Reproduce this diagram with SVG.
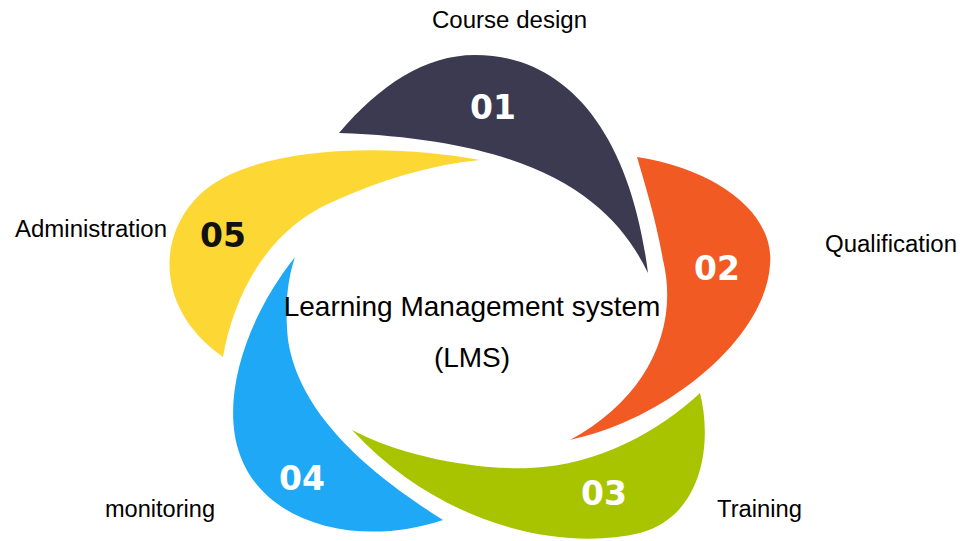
<svg xmlns="http://www.w3.org/2000/svg" width="963" height="541" viewBox="0 0 963 541">
<style>
.lbl{font-family:"Liberation Sans",Arial,sans-serif;font-size:23px;fill:#000}
.num{font-family:"DejaVu Sans",Verdana,sans-serif;font-weight:bold;font-size:33px;text-anchor:middle}
.ctr{font-family:"Liberation Sans",Arial,sans-serif;font-size:28px;fill:#000;text-anchor:middle}
</style>
<rect width="963" height="541" fill="#fff"/>
<g id="node-01">
<path d="M339,133 C380,85 425,55 475,55 C565,55 630,130 648,273 C615,205 545,140 339,133 Z" fill="#3b3a50"/>
<text class="num" x="493" y="119" fill="#fff">01</text>
</g>
<g id="node-02">
<path d="M637,157 C720,170 775,215 770,265 C765,340 665,420 570,440 C645,400 680,330 663,260 C656,220 646,188 637,157 Z" fill="#f15a22"/>
<text class="num" x="717" y="280" fill="#fff">02</text>
</g>
<g id="node-03">
<path d="M352,430 C400,455 470,470 530,468 C600,465 660,430 700,393 C712,440 705,515 640,533 C560,552 440,525 352,430 Z" fill="#a8c400"/>
<text class="num" x="604" y="505" fill="#fff">03</text>
</g>
<g id="node-04">
<path d="M295,257 C245,320 220,400 240,455 C265,525 360,548 443,520 C380,480 300,420 288,340 C284,300 289,275 295,257 Z" fill="#1ea8f5"/>
<text class="num" x="302" y="490" fill="#fff">04</text>
</g>
<g id="node-05">
<path d="M480,160 C400,145 265,142 205,190 C155,232 155,310 223,357 C235,290 270,230 330,203 C380,180 430,165 480,160 Z" fill="#fdd835"/>
<text class="num" x="223" y="247" fill="#111">05</text>
</g>
<g id="center">
<text class="ctr" x="472" y="316">Learning Management system</text>
<text class="ctr" x="472" y="367">(LMS)</text>
</g>
<g id="labels">
<text class="lbl" x="432" y="28" textLength="155" lengthAdjust="spacingAndGlyphs">Course design</text>
<text class="lbl" x="825" y="252" textLength="132" lengthAdjust="spacingAndGlyphs">Qualification</text>
<text class="lbl" x="15" y="237" textLength="152" lengthAdjust="spacingAndGlyphs">Administration</text>
<text class="lbl" x="105" y="517" textLength="110" lengthAdjust="spacingAndGlyphs">monitoring</text>
<text class="lbl" x="717" y="517" textLength="85" lengthAdjust="spacingAndGlyphs">Training</text>
</g>
<g id="connectors"/>
</svg>
